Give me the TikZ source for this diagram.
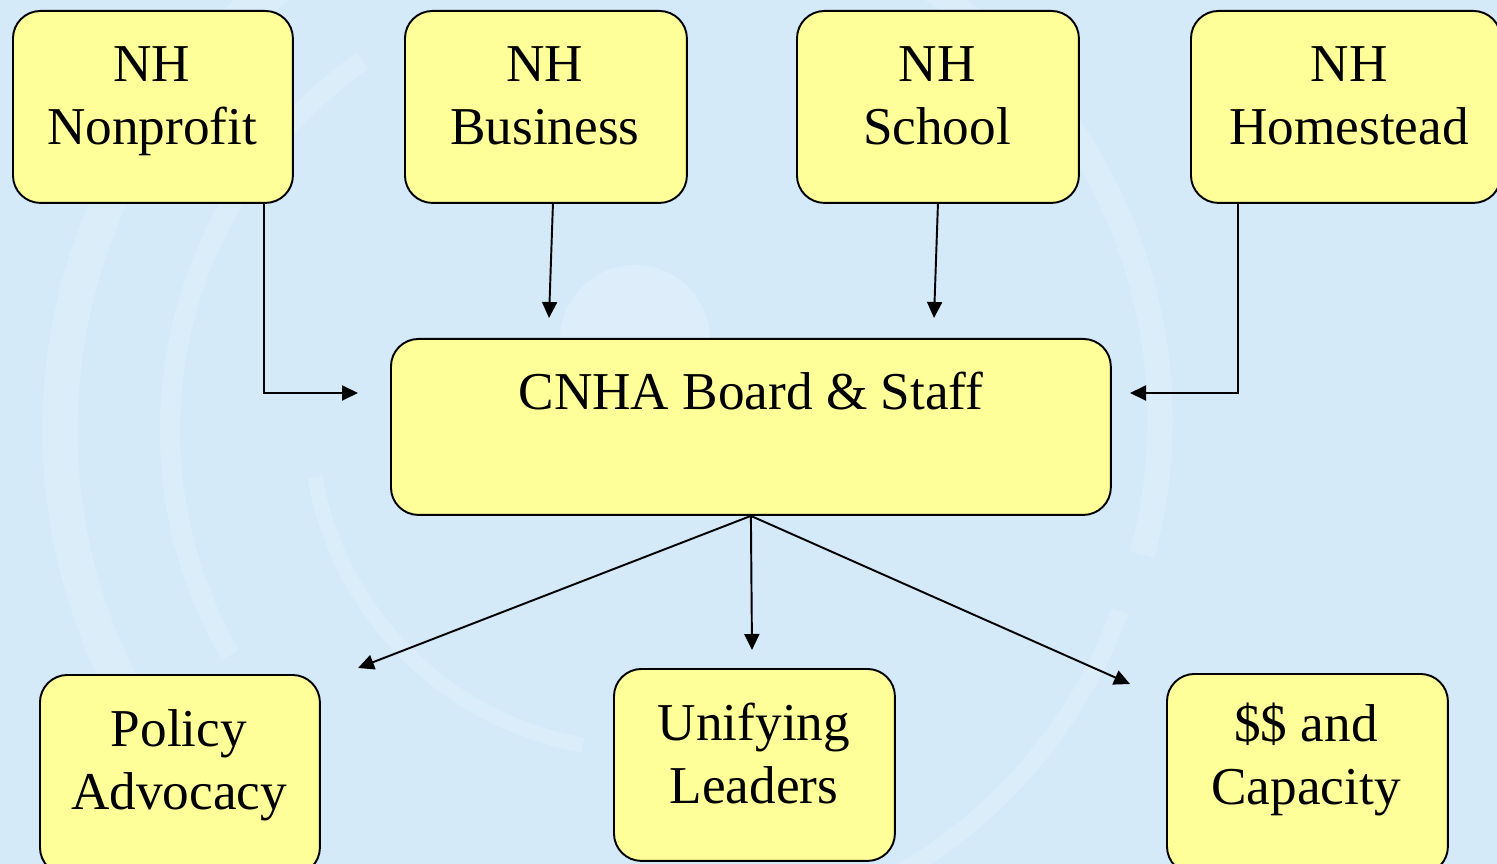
\documentclass[tikz,border=0pt]{standalone}
\usepackage{fontspec}
\setmainfont{Liberation Serif}
\usetikzlibrary{arrows.meta,calc}
\definecolor{skyback}{HTML}{D5EAF9}
\definecolor{boxyellow}{HTML}{FFFF99}
\begin{document}
\begin{tikzpicture}[x=0.02cm,y=-0.02cm,
  box/.style={draw=black, line width=1.1pt, fill=boxyellow,
    rounded corners=0.55cm, anchor=north west, inner sep=0},
  lbl/.style={font=\fontsize{30.3}{35.8}\selectfont, align=center,
    anchor=north, inner sep=0},
  link/.style={draw=black, line width=1.1pt,
    -{Triangle[length=0.32cm,width=0.3cm]}},
  swirl/.style={draw=white, opacity=0.17, line cap=butt}]

% page and backdrop
\useasboundingbox (0,0) rectangle (1497,864);
\clip (0,0) rectangle (1497,864);
\fill[skyback] (0,0) rectangle (1497,864);

% faint swirl in the backdrop
\draw[swirl, line width=0.7cm] (620,430) ++(245:560) arc[start angle=245, end angle=140, radius=560];
\draw[swirl, line width=0.4cm] (620,430) ++(235:450) arc[start angle=235, end angle=150, radius=450];
\draw[swirl, line width=0.5cm] (640,420) ++(300:520) arc[start angle=300, end angle=375, radius=520];
\draw[swirl, line width=0.3cm] (640,420) ++(100:330) arc[start angle=100, end angle=170, radius=330];
\draw[swirl, line width=0.35cm] (650,440) ++(20:500) arc[start angle=20, end angle=80, radius=500];
\fill[white, opacity=0.2] (560,340) arc[start angle=180, end angle=360, radius=75] -- cycle;

% boxes
\node[box, minimum width=5.6cm,  minimum height=3.84cm] (nonprofit) at (12,10) {};
\node[box, minimum width=5.64cm, minimum height=3.84cm] (business)  at (404,10) {};
\node[box, minimum width=5.64cm, minimum height=3.84cm] (school)    at (796,10) {};
\node[box, minimum width=6.2cm,  minimum height=3.84cm] (homestead) at (1190,10) {};
\node[box, minimum width=14.4cm, minimum height=3.52cm] (cnha)      at (390,338) {};
\node[box, minimum width=5.6cm,  minimum height=4cm]    (policy)    at (39,674) {};
\node[box, minimum width=5.62cm, minimum height=3.84cm] (unifying)  at (613,668) {};
\node[box, minimum width=5.62cm, minimum height=4cm]    (capacity)  at (1166,673) {};

% box texts
\node[lbl] (tnonprofit) at (152,46)  {NH\\Nonprofit};
\node[lbl] (tbusiness)  at (545,46)  {NH\\Business};
\node[lbl] (tschool)    at (937,46)  {NH\\School};
\node[lbl] (thomestead) at (1349,46) {NH\\Homestead};
\node[lbl] (tcnha)      at (751,372) {CNHA Board \& Staff};
\node[lbl] (tpolicy)    at (179,709) {Policy\\Advocacy};
\node[lbl] (tunifying)  at (754,703) {Unifying\\Leaders};
\node[lbl] (tcapacity)  at (1306,703) {\$\$ and\\Capacity};

% arrow tips
\coordinate (inL)  at (358,393);
\coordinate (inR)  at (1130,393);
\coordinate (tipB) at (549,318);
\coordinate (tipS) at (934,318);
\coordinate (outP) at (358,668);
\coordinate (outU) at (752,650);
\coordinate (outC) at (1130,684);

% connectors
\draw[link] ($(nonprofit.south east)+(-30,0)$) |- (inL);
\draw[link] ($(business.south)+(7,0)$) -- (tipB);
\draw[link] (school.south) -- (tipS);
\draw[link] ($(homestead.south west)+(48,0)$) |- (inR);
\draw[link] (cnha.south) -- (outP);
\draw[link] (cnha.south) -- (outU);
\draw[link] (cnha.south) -- (outC);
\end{tikzpicture}
\end{document}
